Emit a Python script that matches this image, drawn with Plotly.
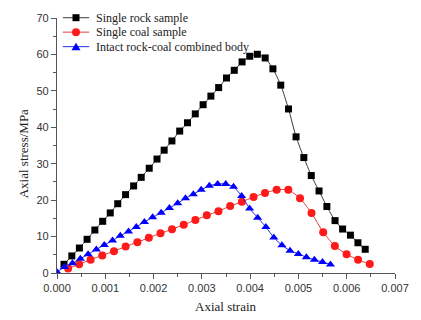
import plotly.graph_objects as go

# Axial strain / axial stress (MPa) for the three specimens
rock_strain = [0.000145, 0.000307, 0.000464, 0.000623, 0.000784, 0.000946, 0.001103, 0.001258,
               0.001420, 0.001587, 0.001744, 0.001910, 0.002071, 0.002219, 0.002380, 0.002541,
               0.002703, 0.002864, 0.003026, 0.003187, 0.003348, 0.003510, 0.003671, 0.003833,
               0.003992, 0.004149, 0.004311, 0.004472, 0.004634, 0.004795, 0.004951, 0.005112,
               0.005266, 0.005427, 0.005589, 0.005758, 0.005915, 0.006077, 0.006232, 0.006383]
rock_stress = [2.39, 4.69, 6.86, 9.25, 11.80, 14.19, 16.49, 19.02,
               21.51, 23.90, 26.26, 28.76, 31.28, 33.72, 36.25, 38.96,
               41.24, 43.68, 46.20, 48.56, 50.90, 53.53, 55.64, 57.95,
               59.50, 60.04, 59.03, 56.05, 51.57, 45.03, 37.38, 31.69,
               26.75, 22.52, 18.26, 14.38, 12.07, 10.39, 8.30, 6.51]

coal_strain = [0.000230, 0.000458, 0.000696, 0.000938, 0.001180, 0.001422, 0.001664, 0.001902,
               0.002144, 0.002382, 0.002624, 0.002866, 0.003102, 0.003344, 0.003587, 0.003829,
               0.004071, 0.004307, 0.004549, 0.004791, 0.005033, 0.005271, 0.005513, 0.005755,
               0.005997, 0.006235, 0.006477]
coal_stress = [1.22, 2.39, 3.66, 4.83, 6.00, 7.27, 8.44, 9.69,
               10.88, 12.02, 13.24, 14.54, 15.82, 16.98, 18.39, 19.56,
               20.84, 21.98, 22.82, 22.82, 20.51, 16.44, 11.20, 7.41,
               5.15, 3.61, 2.47]

combined_strain = [0.0, 0.000155, 0.000321, 0.000484, 0.000644, 0.000815, 0.000979, 0.001150,
                   0.001311, 0.001481, 0.001642, 0.001810, 0.001981, 0.002157, 0.002328, 0.002500,
                   0.002661, 0.002824, 0.002986, 0.003155, 0.003327, 0.003494, 0.003656, 0.003823,
                   0.003989, 0.004156, 0.004326, 0.004489, 0.004659, 0.004826, 0.004998, 0.005165,
                   0.005331, 0.005498, 0.005663]
combined_stress = [0.3, 1.63, 2.66, 3.88, 5.15, 6.46, 7.68, 8.90,
                   10.20, 11.42, 12.64, 14.00, 15.27, 16.55, 17.85, 19.15,
                   20.51, 21.65, 22.82, 23.96, 24.44, 24.44, 23.68, 21.11,
                   17.72, 15.19, 12.64, 9.77, 7.62, 6.13, 5.24, 4.34,
                   3.66, 3.01, 2.33]

series_names = ["Single rock sample", "Single coal sample", "Intact rock-coal combined body"]

x_ticks = [0.000, 0.001, 0.002, 0.003, 0.004, 0.005, 0.006, 0.007]
x_tick_text = ["0.000", "0.001", "0.002", "0.003", "0.004", "0.005", "0.006", "0.007"]
y_ticks = [0, 10, 20, 30, 40, 50, 60, 70]

W, H = 421, 320
ML, MR, MT, MB = 57, 17, 15, 47
PW, PH = W - ML - MR, H - MT - MB

SERIF = "Times New Roman, Liberation Serif, serif"
SANS = "Arial, Liberation Sans, sans-serif"
AXIS_COLOR = "#555555"

styles = [
    dict(line_color="#3a3a3a", marker=dict(symbol="square", size=7, color="black")),
    dict(line_color="#e23a3a", marker=dict(symbol="circle", size=8, color="#ff1a1a")),
    dict(line_color="#2a2ae0", marker=dict(symbol="triangle-up", size=8, color="#0000ff")),
]
data = [(rock_strain, rock_stress), (coal_strain, coal_stress), (combined_strain, combined_stress)]

fig = go.Figure()
for (xs, ys), name, st in zip(data, series_names, styles):
    fig.add_trace(go.Scatter(
        x=xs, y=ys, name=name, mode="lines+markers",
        line=dict(color=st["line_color"], width=1, shape="spline", smoothing=0.6),
        marker=dict(symbol=st["marker"]["symbol"], size=st["marker"]["size"],
                    color=st["marker"]["color"], line=dict(width=0)),
        showlegend=False,
    ))


def px_x(p):
    return (p - ML) / PW


def px_y(p):
    return (H - MB - p) / PH


# Hand-built legend (compact row spacing)
shapes = []
annotations = []
legend_rows = [14.7, 29.3, 44.0]
for name, st, yrow in zip(series_names, styles, legend_rows):
    yc = px_y(yrow)
    shapes.append(dict(type="line", xref="paper", yref="paper",
                       x0=px_x(63), x1=px_x(90), y0=yc, y1=yc,
                       line=dict(color=st["line_color"], width=1)))
    xc = px_x(76.5)
    sym = st["marker"]["symbol"]
    col = st["marker"]["color"]
    common = dict(xref="paper", yref="paper", xsizemode="pixel", ysizemode="pixel",
                  xanchor=xc, yanchor=yc, fillcolor=col, line=dict(width=0))
    if sym == "square":
        shapes.append(dict(type="rect", x0=-3.5, x1=3.5, y0=-3.5, y1=3.5, **common))
    elif sym == "circle":
        shapes.append(dict(type="circle", x0=-4, x1=4, y0=-4, y1=4, **common))
    else:
        shapes.append(dict(type="path", path="M -4.5,-3.5 L 4.5,-3.5 L 0,4 Z", **common))
    annotations.append(dict(text=name, xref="paper", yref="paper", x=px_x(95), y=yc,
                            xanchor="left", yanchor="middle", showarrow=False,
                            font=dict(family=SERIF, size=12, color="#222222")))

# Axis titles
annotations.append(dict(text="Axial strain", xref="paper", yref="paper", x=0.5, y=px_y(307),
                        xanchor="center", yanchor="middle", showarrow=False,
                        font=dict(family=SERIF, size=13, color="#222222")))
annotations.append(dict(text="Axial stress/MPa", xref="paper", yref="paper", x=px_x(22),
                        y=px_y(152), xanchor="center", yanchor="middle", textangle=-90,
                        showarrow=False, font=dict(family=SERIF, size=13, color="#222222")))

fig.update_layout(
    width=W, height=H,
    margin=dict(l=ML, r=MR, t=MT, b=MB, pad=0),
    paper_bgcolor="white", plot_bgcolor="white",
    shapes=shapes, annotations=annotations,
    showlegend=False,
)
fig.update_xaxes(
    range=[0, 0.007], tickvals=x_ticks, ticktext=x_tick_text,
    showgrid=False, zeroline=False, showline=True, linecolor=AXIS_COLOR, linewidth=1.2,
    ticks="outside", ticklen=5, tickwidth=1.2, tickcolor=AXIS_COLOR,
    minor=dict(dtick=0.0005, ticks="outside", ticklen=3, tickcolor=AXIS_COLOR, tickwidth=1),
    tickfont=dict(family=SANS, size=11, color="#333333"),
)
fig.update_yaxes(
    range=[0, 70], tickvals=y_ticks,
    showgrid=False, zeroline=False, showline=True, linecolor=AXIS_COLOR, linewidth=1.2,
    ticks="outside", ticklen=5, tickwidth=1.2, tickcolor=AXIS_COLOR,
    minor=dict(dtick=5, ticks="outside", ticklen=3, tickcolor=AXIS_COLOR, tickwidth=1),
    tickfont=dict(family=SANS, size=11, color="#333333"),
)

fig.write_html("out.html")
